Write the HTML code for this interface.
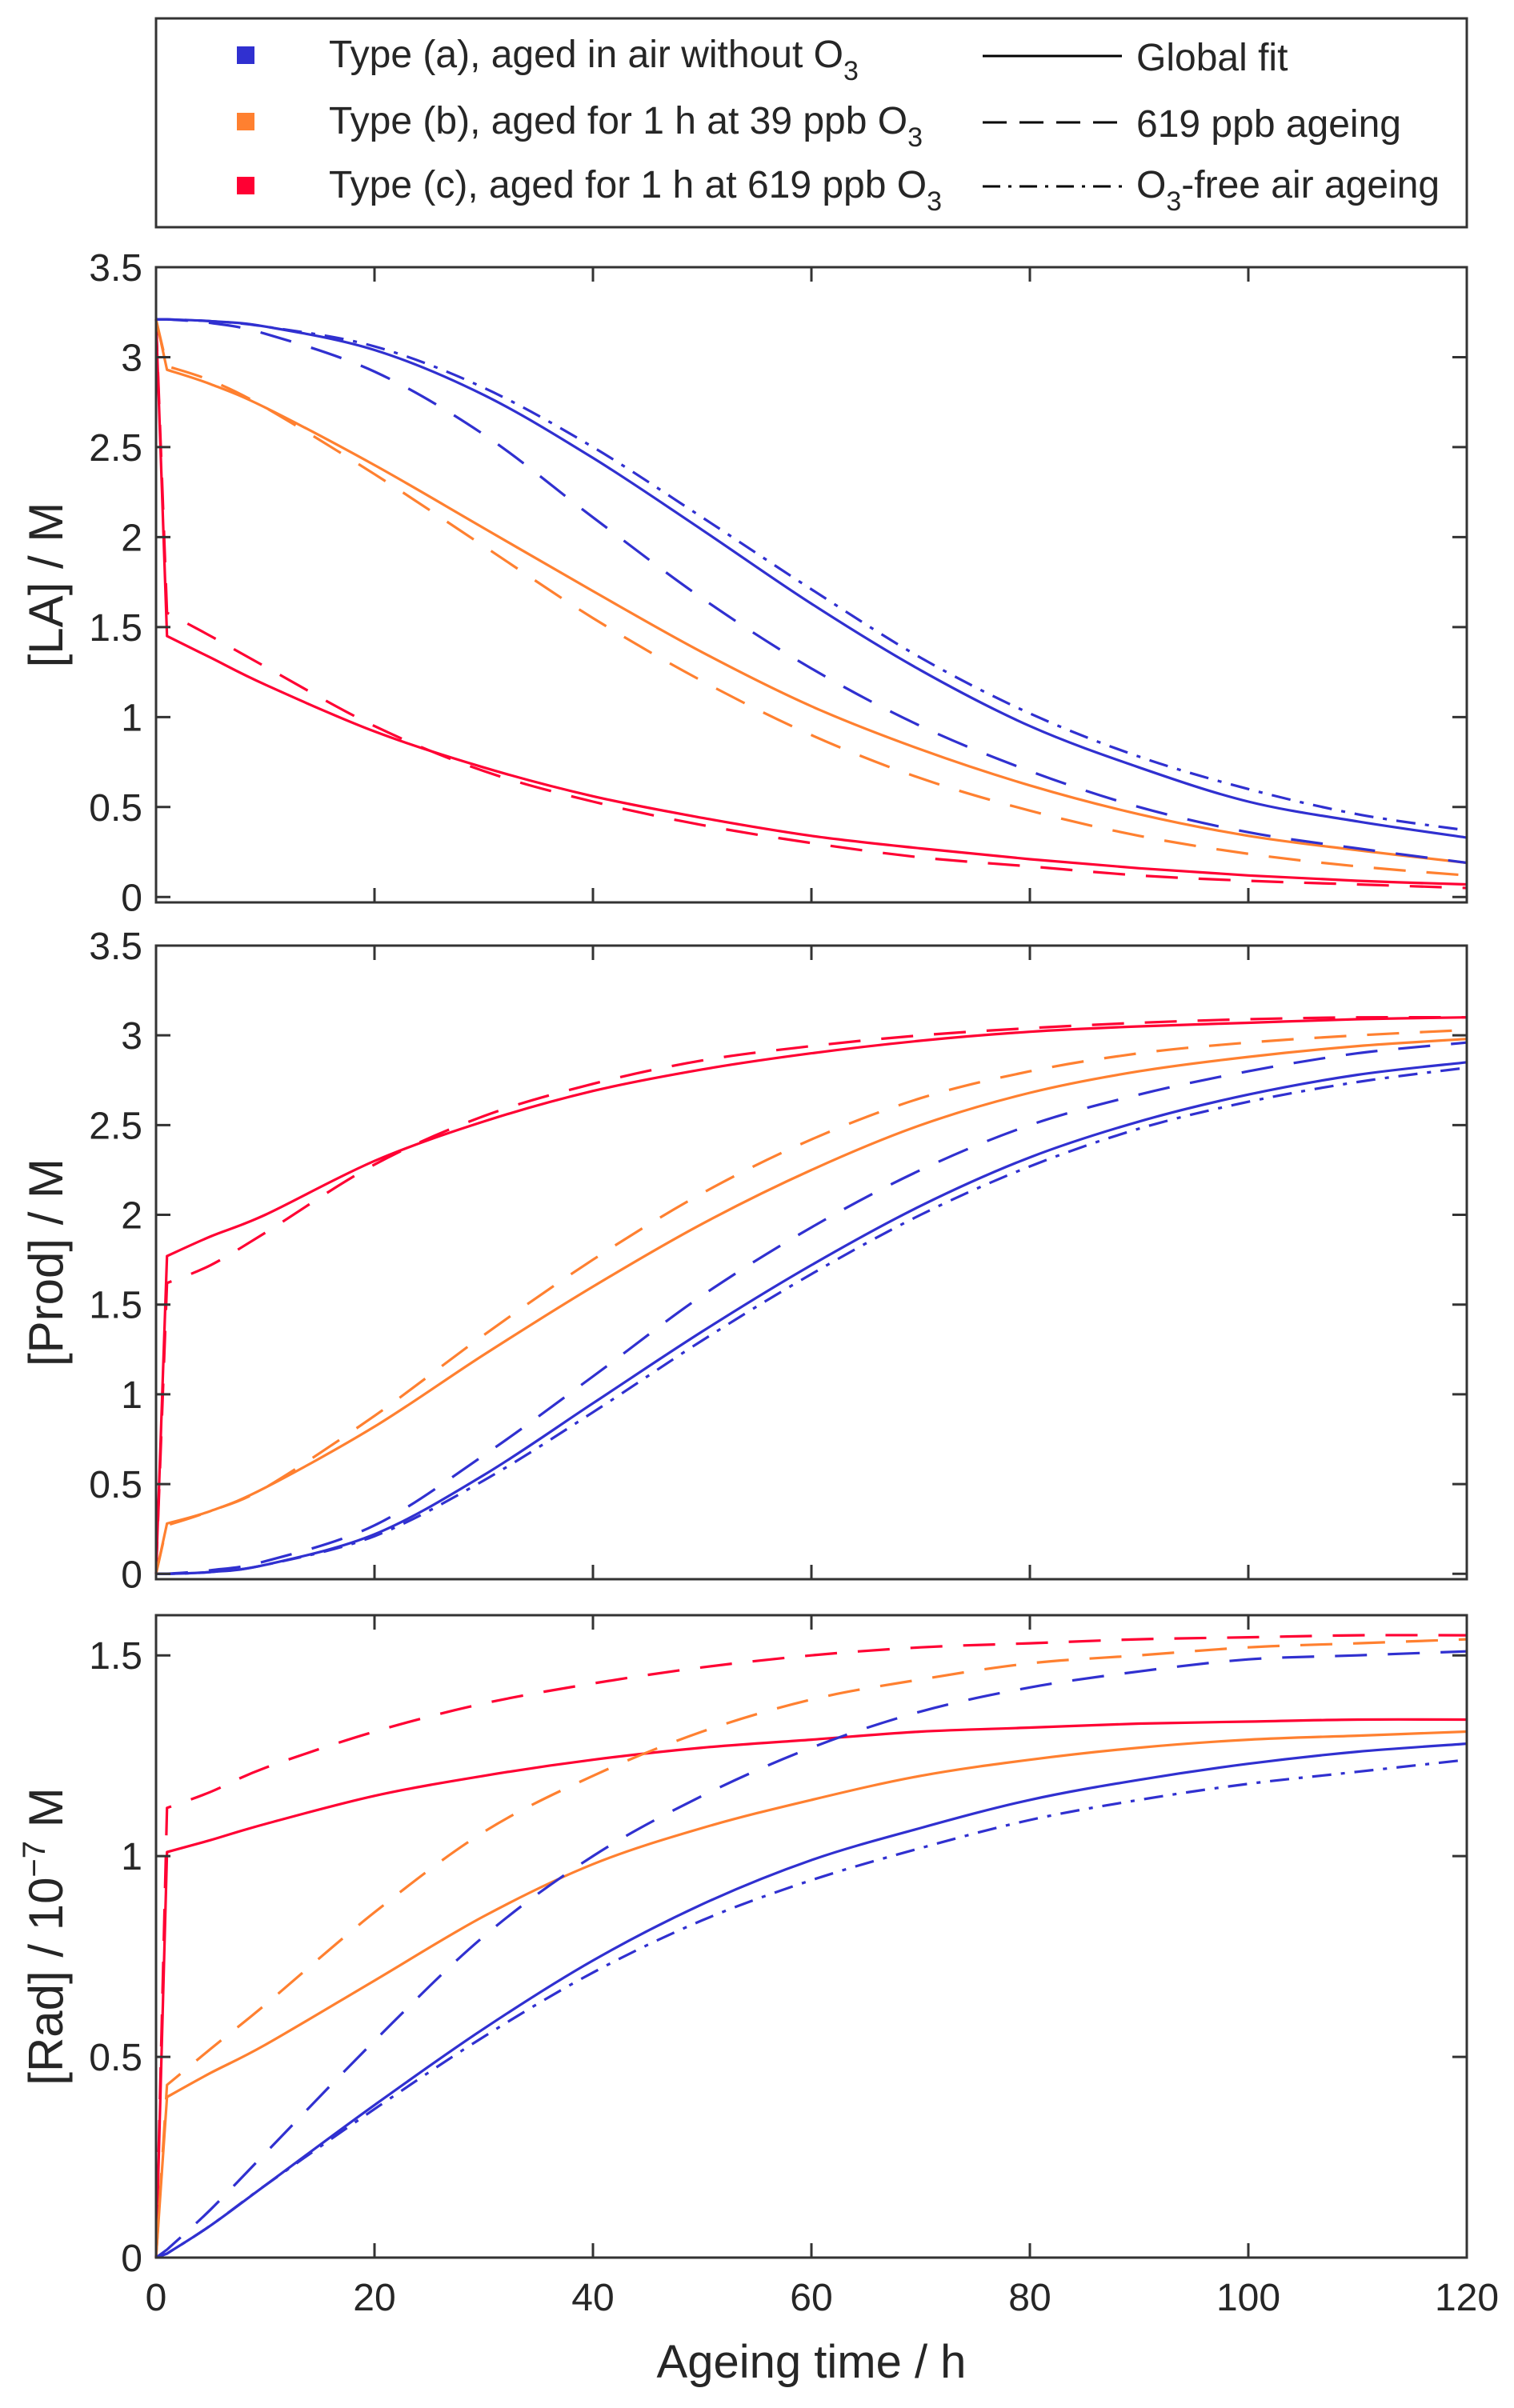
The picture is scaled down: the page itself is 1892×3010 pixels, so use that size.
<!DOCTYPE html>
<html><head><meta charset="utf-8"><style>
html,body{margin:0;padding:0;background:#fff;}
svg text{font-family:"Liberation Sans",sans-serif;fill:#262626;}
</style></head><body>
<svg id="chart" width="1892" height="3005" xmlns="http://www.w3.org/2000/svg">
<rect x="0" y="0" width="1892" height="3005" fill="#fff"/>
<g>
<rect x="195" y="23" width="1638" height="261" fill="#fff" stroke="#333" stroke-width="3"/>
<rect x="296" y="58" width="22" height="22" fill="#3030d0"/>
<rect x="296" y="141" width="22" height="22" fill="#ff8030"/>
<rect x="296" y="221" width="22" height="22" fill="#ff0033"/>
<text x="411" y="84" font-size="48">Type (a), aged in air without O<tspan font-size="34" dy="16">3</tspan></text>
<text x="411" y="167" font-size="48">Type (b), aged for 1 h at 39 ppb O<tspan font-size="34" dy="16">3</tspan></text>
<text x="411" y="247" font-size="48">Type (c), aged for 1 h at 619 ppb O<tspan font-size="34" dy="16">3</tspan></text>
<line x1="1228" y1="70" x2="1402" y2="70" stroke="#000" stroke-width="3"/>
<line x1="1228" y1="153" x2="1402" y2="153" stroke="#000" stroke-width="3" stroke-dasharray="30,16"/>
<line x1="1228" y1="233" x2="1402" y2="233" stroke="#000" stroke-width="3" stroke-dasharray="22,10,4,10"/>
<text x="1420" y="88" font-size="48">Global fit</text>
<text x="1420" y="171" font-size="48">619 ppb ageing</text>
<text x="1420" y="247" font-size="48">O<tspan font-size="34" dy="16">3</tspan><tspan dy="-16">-free air ageing</tspan></text>
</g>
<g id="plots"></g>
</svg>
<script>
const xs = [0,1,5,10,20,30,40,50,60,70,80,90,100,110,120];
const xTicks = [0,20,40,60,80,100,120];
// Panel 1: [LA]
const laBlueSolid = [3.21,3.21,3.2,3.17,3.04,2.79,2.44,2.04,1.63,1.26,0.95,0.72,0.53,0.42,0.33];
const laBlueDashDot = [3.21,3.21,3.2,3.17,3.06,2.83,2.5,2.11,1.71,1.33,1.02,0.78,0.6,0.46,0.37];
const laBlueDash = [3.21,3.21,3.19,3.13,2.92,2.57,2.11,1.66,1.27,0.95,0.7,0.5,0.36,0.27,0.19];
const laOrangeSolid = [3.21,2.93,2.85,2.72,2.4,2.05,1.7,1.36,1.06,0.82,0.62,0.46,0.34,0.26,0.19];
const laOrangeDash = [3.21,2.95,2.87,2.72,2.35,1.95,1.55,1.2,0.9,0.66,0.48,0.34,0.24,0.17,0.12];
const laRedSolid = [3.21,1.45,1.33,1.18,0.92,0.72,0.56,0.44,0.34,0.27,0.21,0.16,0.12,0.09,0.07];
const laRedDash = [3.21,1.58,1.45,1.28,0.95,0.7,0.53,0.4,0.3,0.22,0.17,0.12,0.09,0.07,0.05];
const laTicks = [0,0.5,1,1.5,2,2.5,3,3.5];
// Panel 2: [Prod]
const prRedSolid = [0,1.77,1.88,2.0,2.3,2.52,2.69,2.81,2.9,2.97,3.02,3.05,3.07,3.09,3.1];
const prRedDash = [0,1.62,1.72,1.9,2.28,2.55,2.73,2.86,2.94,3.0,3.04,3.07,3.09,3.1,3.1];
const prOrangeSolid = [0,0.28,0.35,0.48,0.82,1.22,1.6,1.95,2.25,2.5,2.68,2.8,2.88,2.94,2.98];
const prOrangeDash = [0,0.27,0.35,0.48,0.88,1.33,1.75,2.12,2.42,2.65,2.8,2.9,2.96,3.0,3.03];
const prBlueSolid = [0,0,0.01,0.05,0.22,0.55,0.95,1.35,1.72,2.05,2.32,2.52,2.67,2.78,2.85];
const prBlueDash = [0,0,0.02,0.07,0.27,0.66,1.1,1.55,1.93,2.25,2.5,2.67,2.8,2.9,2.96];
const prBlueDashDot = [0,0,0.01,0.05,0.21,0.52,0.9,1.3,1.67,2.0,2.27,2.48,2.63,2.74,2.82];
const prTicks = [0,0.5,1,1.5,2,2.5,3,3.5];
// Panel 3: [Rad]
const raRedSolid = [0,1.01,1.04,1.08,1.15,1.2,1.24,1.27,1.29,1.31,1.32,1.33,1.335,1.34,1.34];
const raRedDash = [0,1.12,1.16,1.22,1.31,1.38,1.43,1.47,1.5,1.52,1.53,1.54,1.545,1.55,1.55];
const raOrangeSolid = [0,0.4,0.46,0.53,0.69,0.85,0.98,1.07,1.14,1.2,1.24,1.27,1.29,1.3,1.31];
const raOrangeDash = [0,0.43,0.52,0.63,0.86,1.06,1.2,1.31,1.39,1.44,1.48,1.5,1.52,1.53,1.54];
const raBlueSolid = [0,0.01,0.08,0.18,0.38,0.57,0.74,0.88,0.99,1.07,1.14,1.19,1.23,1.26,1.28];
const raBlueDash = [0,0.02,0.12,0.26,0.54,0.8,1.0,1.15,1.27,1.36,1.42,1.46,1.49,1.5,1.51];
const raBlueDashDot = [0,0.01,0.08,0.18,0.37,0.55,0.71,0.84,0.94,1.02,1.09,1.14,1.18,1.21,1.24];
const raTicks = [0,0.5,1,1.5];

const NS='http://www.w3.org/2000/svg';
const root=document.getElementById('plots');
const X0=195, X1=1833;
const BLUE='#3030d0', ORANGE='#ff8030', RED='#ff0033';
const DASH='40,26', DASHDOT='24,12,5,12';
function mk(tag,attrs,parent){const e=document.createElementNS(NS,tag);for(const k in attrs)e.setAttribute(k,attrs[k]);parent.appendChild(e);return e;}
function smoothPath(pts){
  let d='M'+pts[0][0].toFixed(1)+','+pts[0][1].toFixed(1)+' L'+pts[1][0].toFixed(1)+','+pts[1][1].toFixed(1);
  for(let i=1;i<pts.length-1;i++){
    const p0=pts[Math.max(1,i-1)],p1=pts[i],p2=pts[i+1],p3=pts[Math.min(pts.length-1,i+2)];
    const c1=[p1[0]+(p2[0]-p0[0])/6,p1[1]+(p2[1]-p0[1])/6];
    const c2=[p2[0]-(p3[0]-p1[0])/6,p2[1]-(p3[1]-p1[1])/6];
    d+=' C'+c1.map(v=>v.toFixed(1)).join(',')+' '+c2.map(v=>v.toFixed(1)).join(',')+' '+p2.map(v=>v.toFixed(1)).join(',');
  }
  return d;
}
function panel(name,top,bot,ymin,ymax,ticks,series,label,showX){
  const g=mk('g',{},root);
  
  
  const sx=v=>X0+(v-0)/(120-0)*(X1-X0);
  const sy=v=>bot-(v-ymin)/(ymax-ymin)*(bot-top);
  for(const s of series){
    const pts=xs.map((x,i)=>[sx(x),sy(s.v[i])]);
    const p=mk('path',{d:smoothPath(pts),fill:'none',stroke:s.c,'stroke-width':3.2,'stroke-dasharray':s.dash||'none','stroke-linejoin':'round'},g);
    
    
  }
  const fr=mk('rect',{x:X0,y:top,width:X1-X0,height:bot-top,fill:'none',stroke:'#333','stroke-width':3},g);
  
  
  for(const t of xTicks){
    const x=sx(t);
    mk('line',{x1:x,y1:bot,x2:x,y2:bot-18,stroke:'#333','stroke-width':3},g);
    mk('line',{x1:x,y1:top,x2:x,y2:top+18,stroke:'#333','stroke-width':3},g);
    if(showX){
      const tl=mk('text',{x:x,y:bot+66,'font-size':48,'text-anchor':'middle'},g);
      tl.textContent=t;
      
      
    }
  }
  for(const t of ticks){
    const y=sy(t);
    mk('line',{x1:X0,y1:y,x2:X0+18,y2:y,stroke:'#333','stroke-width':3},g);
    mk('line',{x1:X1,y1:y,x2:X1-18,y2:y,stroke:'#333','stroke-width':3},g);
    const tl=mk('text',{x:178,y:y+17,'font-size':48,'text-anchor':'end'},g);
    tl.textContent=t;
    
    
  }
  const cy=(top+bot)/2;
  const yl=mk('text',{x:0,y:0,'font-size':60,'text-anchor':'middle',transform:`translate(78,${cy}) rotate(-90)`},g);
  yl.innerHTML=label;
  
  
}
panel('panel-la',334,1128,-0.03,3.5,laTicks,[
 {n:'la-red-solid',c:RED,v:laRedSolid},{n:'la-red-dash',c:RED,v:laRedDash,dash:DASH},
 {n:'la-orange-solid',c:ORANGE,v:laOrangeSolid},{n:'la-orange-dash',c:ORANGE,v:laOrangeDash,dash:DASH},
 {n:'la-blue-solid',c:BLUE,v:laBlueSolid},{n:'la-blue-dash',c:BLUE,v:laBlueDash,dash:DASH},{n:'la-blue-dashdot',c:BLUE,v:laBlueDashDot,dash:DASHDOT}
],'[LA] / M',false);
panel('panel-prod',1182,1974,-0.03,3.5,prTicks,[
 {n:'prod-red-solid',c:RED,v:prRedSolid},{n:'prod-red-dash',c:RED,v:prRedDash,dash:DASH},
 {n:'prod-orange-solid',c:ORANGE,v:prOrangeSolid},{n:'prod-orange-dash',c:ORANGE,v:prOrangeDash,dash:DASH},
 {n:'prod-blue-solid',c:BLUE,v:prBlueSolid},{n:'prod-blue-dash',c:BLUE,v:prBlueDash,dash:DASH},{n:'prod-blue-dashdot',c:BLUE,v:prBlueDashDot,dash:DASHDOT}
],'[Prod] / M',false);
panel('panel-rad',2019,2822,0,1.6,raTicks,[
 {n:'rad-red-solid',c:RED,v:raRedSolid},{n:'rad-red-dash',c:RED,v:raRedDash,dash:DASH},
 {n:'rad-orange-solid',c:ORANGE,v:raOrangeSolid},{n:'rad-orange-dash',c:ORANGE,v:raOrangeDash,dash:DASH},
 {n:'rad-blue-solid',c:BLUE,v:raBlueSolid},{n:'rad-blue-dash',c:BLUE,v:raBlueDash,dash:DASH},{n:'rad-blue-dashdot',c:BLUE,v:raBlueDashDot,dash:DASHDOT}
],'[Rad] / 10<tspan font-size="40" dy="-22">−7</tspan><tspan dy="22"> M</tspan>',true);
const xt=document.createElementNS(NS,'text');
xt.setAttribute('x',(X0+X1)/2);xt.setAttribute('y',2972);xt.setAttribute('font-size',58);xt.setAttribute('text-anchor','middle');
xt.textContent='Ageing time / h';


document.getElementById('chart').appendChild(xt);
</script>
</body></html>
